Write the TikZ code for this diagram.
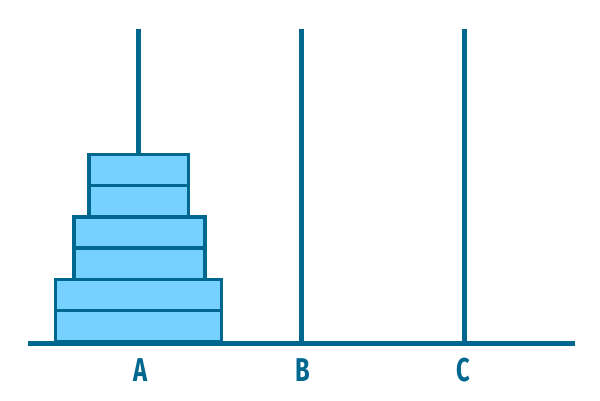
\documentclass[tikz,border=0pt]{standalone}
\usepackage{fontspec}
\newfontfamily\labfont{Fira Sans}
\definecolor{peg}{HTML}{00678F}
\definecolor{disk}{HTML}{77D1FF}
\begin{document}
\begin{tikzpicture}[x=1pt,y=-1pt,
  pegline/.style={draw=peg,line width=4.5pt},
  diskbox/.style={draw=peg,fill=disk,line width=3.3pt},
  lab/.style={text=peg,font=\labfont\bfseries\fontsize{33}{33}\selectfont,anchor=base,inner sep=0pt}]
\useasboundingbox (0,0) rectangle (600,400);
% pegs
\coordinate (ta) at (138.5,29); \coordinate (ba) at (138.5,343);
\coordinate (tb) at (301.5,29); \coordinate (bb) at (301.5,343);
\coordinate (tc) at (464.5,29); \coordinate (bc) at (464.5,343);
\draw[pegline] (ta) -- (ba);
\draw[pegline] (tb) -- (bb);
\draw[pegline] (tc) -- (bc);
% disks
\node[diskbox,minimum width=99.5pt,minimum height=31pt,inner sep=0pt] (d1) at (138.8,170) {};
\node[diskbox,minimum width=99.5pt,minimum height=31pt,inner sep=0pt] (d2) at (138.8,201.3) {};
\node[diskbox,minimum width=131pt,minimum height=31pt,inner sep=0pt] (d3) at (139.5,232.5) {};
\node[diskbox,minimum width=131pt,minimum height=31pt,inner sep=0pt] (d4) at (139.5,263.7) {};
\node[diskbox,minimum width=166pt,minimum height=31pt,inner sep=0pt] (d5) at (138.8,295) {};
\node[diskbox,minimum width=166pt,minimum height=31pt,inner sep=0pt] (d6) at (138.8,326.2) {};
% base line
\coordinate (l) at (28,343.2); \coordinate (r) at (575,343.2);
\draw[draw=peg,line width=4.8pt] (l) -- (r);
% labels
\node[lab] (la) at (140.5,381.3) {\scalebox{0.72}[1]{A}};
\node[lab] (lb) at (303,381.3) {\scalebox{0.72}[1]{B}};
\node[lab] (lc) at (463.5,381.3) {\scalebox{0.72}[1]{C}};
\end{tikzpicture}
\end{document}
